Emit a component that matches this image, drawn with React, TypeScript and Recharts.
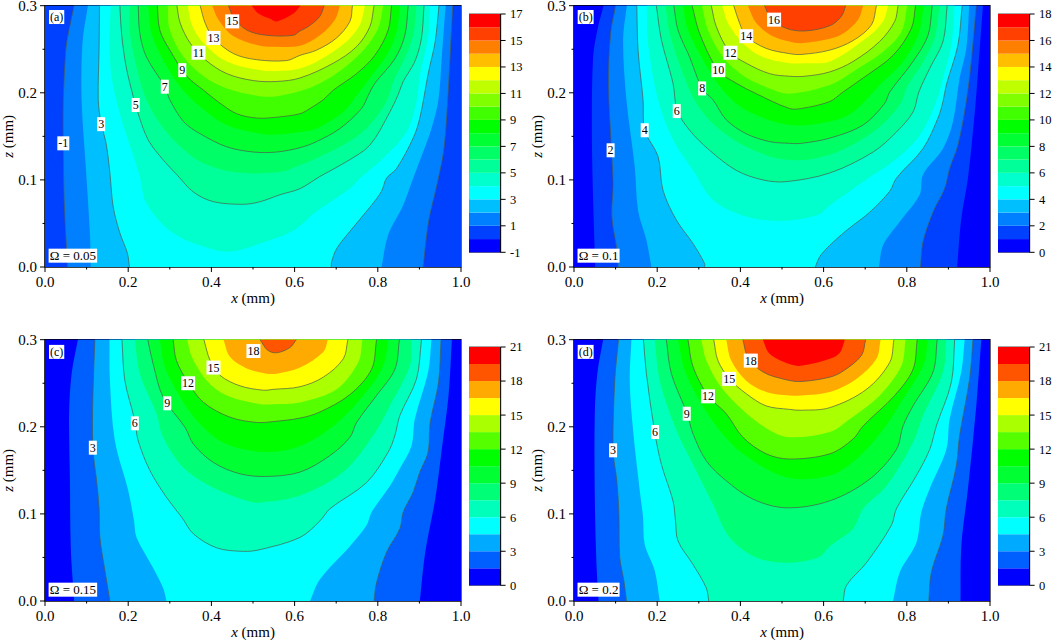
import React from "react";
import { BarChart, Bar, ComposedChart, Scatter, XAxis, YAxis, ReferenceArea, Label } from "recharts";

const FONT = "'Liberation Serif','Times New Roman',serif";

const xTicks = [0, 0.1, 0.2, 0.3, 0.4, 0.5, 0.6, 0.7, 0.8, 0.9, 1];
const xMajor = [0, 0.2, 0.4, 0.6, 0.8, 1];
const zTicks = [0, 0.05, 0.1, 0.15, 0.2, 0.25, 0.3];
const zMajor = [0, 0.1, 0.2, 0.3];

const colors18 = ["#0000ff","#0040ff","#0080ff","#00bfff","#00ffff","#00ffcc","#00ff99","#00ff66","#00ff33","#00ff00","#40ff00","#80ff00","#bfff00","#ffff00","#ffbf00","#ff8000","#ff4000","#ff0000"];
const colors14 = ["#0000ff","#0060ff","#00aaff","#00ffff","#00ffbb","#00ff77","#00ff33","#00ff00","#55ff00","#aaff00","#ffff00","#ffaa00","#ff5500","#ff0000"];

const fullField = [0,0.3, 0,0, 1,0, 1,0.3];

// Contours as x,z pairs in data units, outermost first
const contoursA = [
  [.07,.3,.056,.268,.05,.249,.044,.192,.044,.142,.046,.077,.054,0,.909,0,.922,.052,.942,.094,.958,.132,.966,.175,.974,.243,.98,.3],
  [.103,.3,.09,.257,.088,.192,.098,.115,.108,.039,.11,0,.809,0,.825,.037,.861,.071,.885,.102,.909,.132,.929,.159,.946,.193,.954,.243,.963,.3],
  [.131,.3,.13,.249,.128,.192,.135,.165,.147,.142,.156,.108,.164,.069,.18,.039,.198,.016,.203,0,.688,0,.689,.006,.701,.021,.733,.041,.785,.071,.809,.087,.821,.102,.845,.113,.885,.148,.901,.171,.922,.224,.938,.259,.947,.3],
  [.158,.3,.155,.257,.16,.218,.18,.176,.208,.134,.228,.104,.244,.073,.308,.039,.405,.02,.453,.018,.517,.027,.597,.042,.653,.064,.733,.09,.757,.102,.813,.125,.869,.155,.893,.19,.901,.22,.921,.263,.925,.3],
  [.18,.3,.184,.268,.195,.23,.212,.196,.224,.176,.248,.146,.284,.123,.317,.106,.357,.086,.405,.075,.477,.072,.517,.075,.565,.083,.613,.09,.661,.104,.725,.121,.781,.14,.829,.178,.849,.198,.861,.213,.889,.236,.905,.263,.911,.3],
  [.203,.3,.204,.268,.224,.222,.244,.192,.276,.165,.317,.142,.373,.121,.453,.109,.565,.109,.613,.117,.653,.125,.717,.14,.773,.159,.821,.19,.837,.213,.861,.236,.885,.266,.893,.3],
  [.224,.3,.228,.268,.244,.241,.288,.207,.3,.192,.333,.167,.373,.153,.437,.138,.501,.132,.557,.132,.613,.137,.653,.144,.709,.159,.761,.182,.777,.197,.793,.211,.841,.239,.865,.266,.873,.3],
  [.248,.3,.256,.268,.284,.238,.325,.207,.373,.184,.437,.163,.517,.153,.557,.152,.613,.155,.653,.159,.717,.178,.749,.197,.781,.217,.821,.243,.845,.27,.853,.3],
  [.27,.3,.276,.272,.3,.249,.341,.219,.381,.203,.421,.188,.461,.176,.509,.171,.557,.172,.613,.176,.637,.182,.669,.192,.693,.203,.749,.222,.793,.243,.825,.272,.833,.3],
  [.295,.3,.3,.272,.333,.241,.381,.219,.437,.205,.517,.196,.557,.196,.613,.202,.661,.211,.717,.228,.769,.251,.801,.274,.813,.3],
  [.317,.3,.325,.28,.349,.257,.385,.238,.437,.222,.501,.214,.557,.213,.613,.217,.693,.234,.749,.253,.781,.276,.791,.3],
  [.343,.3,.353,.278,.381,.257,.437,.236,.517,.226,.557,.225,.613,.228,.661,.238,.725,.259,.757,.278,.769,.3],
  [.373,.3,.385,.28,.405,.263,.453,.245,.509,.238,.581,.237,.613,.243,.653,.249,.701,.263,.733,.282,.739,.3],
  [.402,.3,.417,.284,.453,.265,.517,.254,.557,.253,.613,.254,.661,.266,.697,.284,.709,.3],
  [.441,.3,.453,.287,.485,.272,.533,.266,.597,.266,.613,.271,.633,.276,.661,.288,.671,.3],
  [.497,.3,.513,.291,.541,.285,.557,.282,.597,.291,.614,.3],
];

const contoursB = [
  [.071,.3,.058,.276,.046,.241,.043,.153,.046,.077,.051,0,.921,0,.931,.056,.947,.102,.965,.186,.974,.243,.983,.3],
  [.1,.3,.088,.268,.083,.211,.09,.134,.094,.096,.091,.058,.103,.02,.106,0,.833,0,.839,.029,.863,.063,.891,.09,.903,.113,.923,.14,.943,.19,.955,.236,.967,.3],
  [.127,.3,.118,.261,.126,.192,.146,.115,.154,.065,.174,.031,.186,0,.733,0,.743,.025,.783,.052,.831,.083,.839,.106,.887,.136,.911,.167,.927,.217,.943,.251,.95,.3],
  [.151,.3,.154,.249,.166,.192,.17,.157,.202,.127,.214,.088,.246,.054,.286,.027,.314,.004,.314,0,.58,0,.591,.012,.615,.025,.655,.042,.711,.063,.759,.087,.775,.102,.839,.136,.875,.171,.887,.19,.895,.209,.923,.255,.933,.3],
  [.175,.3,.178,.257,.202,.192,.238,.146,.286,.111,.334,.077,.414,.058,.502,.053,.587,.06,.615,.071,.695,.098,.767,.121,.831,.151,.871,.19,.887,.217,.907,.255,.915,.3],
  [.198,.3,.21,.261,.238,.211,.248,.18,.278,.157,.326,.134,.39,.111,.454,.1,.51,.098,.615,.108,.719,.132,.775,.155,.815,.178,.829,.201,.855,.228,.887,.259,.897,.3],
  [.22,.3,.23,.268,.262,.222,.294,.188,.342,.161,.414,.138,.51,.123,.615,.129,.719,.155,.783,.186,.803,.209,.835,.232,.867,.263,.879,.3],
  [.24,.3,.25,.272,.278,.241,.308,.205,.334,.192,.366,.169,.414,.153,.47,.144,.518,.142,.547,.142,.615,.148,.695,.163,.747,.188,.759,.201,.815,.236,.851,.266,.861,.3],
  [.262,.3,.274,.272,.31,.238,.358,.203,.414,.18,.518,.163,.615,.167,.671,.178,.735,.209,.791,.236,.827,.266,.841,.3],
  [.284,.3,.302,.268,.346,.226,.39,.211,.438,.199,.518,.182,.547,.182,.615,.19,.647,.201,.695,.217,.767,.243,.811,.274,.821,.3],
  [.308,.3,.322,.272,.358,.241,.406,.22,.47,.205,.518,.199,.615,.209,.663,.222,.743,.247,.787,.27,.801,.3],
  [.33,.3,.342,.276,.374,.247,.414,.234,.47,.222,.518,.219,.555,.219,.615,.224,.671,.236,.735,.259,.771,.282,.779,.3],
  [.357,.3,.37,.28,.406,.257,.454,.241,.518,.234,.555,.234,.615,.236,.703,.263,.743,.282,.755,.3],
  [.384,.3,.398,.28,.414,.265,.462,.251,.518,.245,.546,.244,.615,.249,.671,.26,.715,.278,.727,.3],
  [.418,.3,.438,.28,.478,.265,.518,.259,.546,.257,.615,.262,.647,.268,.683,.284,.695,.3],
  [.458,.3,.474,.285,.51,.274,.555,.271,.615,.277,.643,.288,.653,.3],
];

const contoursC = [
  [.079,.3,.064,.261,.058,.215,.06,.138,.062,.061,.07,0,.901,0,.914,.056,.938,.117,.954,.175,.97,.236,.978,.3],
  [.12,.3,.115,.234,.115,.176,.124,.138,.13,.107,.132,.073,.144,.035,.156,0,.791,0,.797,.021,.821,.056,.853,.083,.861,.102,.885,.125,.901,.148,.921,.171,.926,.205,.946,.251,.952,.3],
  [.155,.3,.156,.253,.168,.184,.2,.127,.214,.092,.22,.073,.26,.038,.284,.015,.292,0,.637,0,.661,.025,.733,.063,.773,.087,.785,.102,.829,.132,.853,.152,.881,.178,.889,.209,.921,.263,.929,.3],
  [.185,.3,.192,.253,.216,.207,.224,.184,.252,.15,.292,.119,.329,.096,.357,.077,.413,.061,.477,.057,.517,.059,.613,.073,.661,.092,.685,.106,.773,.136,.825,.171,.841,.19,.853,.213,.893,.255,.905,.3],
  [.216,.3,.228,.261,.268,.215,.284,.188,.333,.153,.405,.13,.485,.115,.517,.113,.613,.121,.717,.148,.789,.19,.829,.224,.877,.27,.881,.3],
  [.247,.3,.26,.272,.284,.234,.337,.199,.357,.18,.405,.159,.469,.146,.533,.143,.613,.148,.685,.167,.733,.188,.749,.205,.797,.236,.841,.266,.852,.3],
  [.276,.3,.288,.269,.325,.234,.373,.203,.437,.18,.533,.171,.613,.178,.693,.201,.765,.236,.813,.27,.825,.3],
  [.308,.3,.316,.276,.344,.251,.381,.228,.445,.211,.509,.205,.549,.206,.613,.21,.661,.217,.733,.237,.785,.266,.797,.3],
  [.342,.3,.353,.28,.389,.253,.437,.236,.517,.226,.549,.226,.613,.228,.701,.243,.753,.274,.763,.3],
  [.382,.3,.397,.276,.421,.259,.469,.247,.525,.242,.549,.243,.613,.246,.669,.257,.717,.278,.728,.3],
  [.429,.3,.445,.28,.485,.267,.533,.261,.557,.261,.613,.268,.669,.286,.68,.3],
  [.517,.3,.535,.288,.557,.285,.589,.291,.604,.3],
];

const contoursD = [
  [.07,.3,.056,.261,.05,.215,.05,.119,.054,.042,.059,0,.929,0,.931,.063,.947,.129,.967,.224,.979,.3],
  [.107,.3,.098,.253,.094,.173,.103,.138,.108,.1,.11,.05,.12,.023,.126,0,.853,0,.859,.033,.887,.075,.895,.106,.919,.155,.927,.19,.951,.255,.959,.3],
  [.138,.3,.134,.253,.142,.196,.158,.127,.166,.096,.17,.065,.194,.035,.206,0,.767,0,.783,.033,.823,.067,.835,.102,.855,.129,.895,.174,.903,.209,.931,.263,.939,.3],
  [.167,.3,.174,.261,.194,.194,.21,.157,.238,.115,.244,.092,.25,.069,.286,.042,.318,.015,.324,0,.647,0,.655,.018,.703,.044,.763,.087,.775,.106,.823,.144,.855,.174,.871,.201,.907,.251,.915,.3],
  [.194,.3,.206,.253,.246,.196,.286,.157,.334,.111,.374,.073,.438,.05,.51,.044,.587,.05,.615,.063,.671,.083,.695,.106,.751,.132,.815,.182,.839,.213,.887,.263,.895,.3],
  [.222,.3,.234,.261,.272,.215,.286,.192,.318,.161,.366,.138,.43,.117,.51,.107,.615,.115,.711,.14,.775,.174,.791,.201,.815,.224,.863,.263,.873,.3],
  [.25,.3,.266,.265,.302,.23,.35,.196,.406,.169,.51,.142,.615,.144,.679,.163,.743,.197,.791,.232,.839,.27,.851,.3],
  [.274,.3,.286,.269,.322,.236,.366,.215,.406,.188,.462,.169,.518,.163,.615,.169,.671,.186,.695,.201,.771,.236,.815,.266,.825,.3],
  [.306,.3,.318,.276,.354,.245,.406,.219,.47,.196,.518,.188,.615,.194,.663,.209,.735,.236,.787,.27,.797,.3],
  [.336,.3,.346,.276,.374,.255,.414,.238,.462,.224,.518,.22,.546,.219,.615,.222,.703,.243,.759,.274,.769,.3],
  [.366,.3,.378,.276,.414,.253,.462,.24,.518,.236,.546,.236,.615,.24,.679,.255,.727,.278,.737,.3],
  [.406,.3,.418,.28,.454,.263,.51,.254,.546,.252,.615,.257,.647,.264,.691,.282,.701,.3],
  [.454,.3,.47,.284,.518,.272,.546,.27,.615,.278,.639,.285,.651,.3],
];

const labelsA = [{t:"15",x:.45,z:.282},{t:"13",x:.405,z:.263},{t:"11",x:.369,z:.246},{t:"9",x:.33,z:.226},{t:"7",x:.288,z:.207},{t:"5",x:.218,z:.186},{t:"3",x:.135,z:.164},{t:"-1",x:.044,z:.142},{t:"(a)",x:.028,z:.287},{t:"Ω = 0.05",x:.067,z:.013}];
const labelsB = [{t:"16",x:.481,z:.284},{t:"14",x:.414,z:.265},{t:"12",x:.376,z:.246},{t:"10",x:.347,z:.226},{t:"8",x:.308,z:.205},{t:"6",x:.247,z:.179},{t:"4",x:.17,z:.157},{t:"2",x:.088,z:.134},{t:"(b)",x:.028,z:.287},{t:"Ω = 0.1",x:.059,z:.013}];
const labelsC = [{t:"18",x:.501,z:.287},{t:"15",x:.405,z:.268},{t:"12",x:.344,z:.25},{t:"9",x:.294,z:.227},{t:"6",x:.216,z:.204},{t:"3",x:.115,z:.176},{t:"(c)",x:.028,z:.286},{t:"Ω = 0.15",x:.067,z:.013}];
const labelsD = [{t:"18",x:.425,z:.276},{t:"15",x:.373,z:.255},{t:"12",x:.322,z:.235},{t:"9",x:.271,z:.215},{t:"6",x:.195,z:.194},{t:"3",x:.094,z:.173},{t:"(d)",x:.028,z:.286},{t:"Ω = 0.2",x:.059,z:.013}];

const toRows = (flat: number[]) => {
  const rows: { x: number; z: number }[] = [];
  for (let i = 0; i < flat.length; i += 2) rows.push({ x: flat[i], z: flat[i + 1] });
  return rows;
};

type P = { x: number; y: number };
// smooth chord-length spline through screen points
const spline = (pts: P[], move: string) => {
  let d = `${move}${pts[0].x},${pts[0].y}`;
  const dist = (a: P, b: P) => Math.hypot(a.x - b.x, a.y - b.y) || 1;
  const tan = (i: number) => {
    if (i === 0) { const l = dist(pts[0], pts[1]); return { x: (pts[1].x - pts[0].x) / l, y: (pts[1].y - pts[0].y) / l }; }
    if (i === pts.length - 1) { const l = dist(pts[i - 1], pts[i]); return { x: (pts[i].x - pts[i - 1].x) / l, y: (pts[i].y - pts[i - 1].y) / l }; }
    const l = dist(pts[i - 1], pts[i]) + dist(pts[i], pts[i + 1]);
    return { x: (pts[i + 1].x - pts[i - 1].x) / l, y: (pts[i + 1].y - pts[i - 1].y) / l };
  };
  for (let i = 0; i < pts.length - 1; i++) {
    const l = dist(pts[i], pts[i + 1]);
    const a = tan(i), b = tan(i + 1);
    d += `C${pts[i].x + (a.x * l) / 3},${pts[i].y + (a.y * l) / 3} ${pts[i + 1].x - (b.x * l) / 3},${pts[i + 1].y - (b.y * l) / 3} ${pts[i + 1].x},${pts[i + 1].y}`;
  }
  return d;
};

const contourShape = (rows: { x: number; z: number }[], fill: string, stroked: boolean) => (props: any) => {
  const pts: P[] = props.points;
  let cut = -1;
  for (let i = 0; i < rows.length - 1; i++) if (rows[i].z === 0 && rows[i + 1].z === 0) cut = i;
  const pieces = cut >= 0 ? [pts.slice(0, cut + 1), pts.slice(cut + 1)] : [pts];
  const fillD = pieces.map((p, i) => (p.length > 1 ? spline(p, i === 0 ? "M" : "L") : `${i === 0 ? "M" : "L"}${p[0].x},${p[0].y}`)).join("") + "Z";
  const lineD = pieces.filter((p) => p.length > 1).map((p) => spline(p, "M")).join("");
  return (
    <g>
      <path d={fillD} fill={fill} stroke="none" />
      {stroked && <path d={lineD} fill="none" stroke="#4d5a4d" strokeWidth={0.7} />}
    </g>
  );
};

const NoPoint = () => <g />;

const charW: Record<string, number> = { ".": 0.25, "-": 0.33, "(": 0.33, ")": 0.33, " ": 0.25, "=": 0.56, "Ω": 0.77, a: 0.44, b: 0.5, c: 0.44, d: 0.5 };
const LabelBox = (props: any) => {
  const { cx, cy, payload } = props;
  const t: string = payload.t;
  const fs = t.length > 4 ? 13 : 12;
  const w = t.split("").reduce((s, c) => s + (charW[c] ?? 0.5), 0) * fs + 2;
  const h = 14;
  return (
    <g>
      <rect x={cx - w / 2} y={cy - h / 2} width={w} height={h} fill="#fff" />
      <text x={cx} y={cy} textAnchor="middle" dominantBaseline="central" fontFamily={FONT} fontSize={fs} fill="#000">{t}</text>
    </g>
  );
};

const XTick = (props: any) => {
  const { x, y, payload } = props;
  const major = xMajor.includes(payload.value);
  return (
    <g>
      <line x1={x} x2={x} y1={y} y2={y + (major ? 5 : 2.5)} stroke="#000" strokeWidth={1} />
      {major && <text x={x} y={y + 20} textAnchor="middle" fontFamily={FONT} fontSize={15} fill="#000">{payload.value.toFixed(1)}</text>}
    </g>
  );
};
const ZTick = (props: any) => {
  const { x, y, payload } = props;
  const major = zMajor.includes(payload.value);
  return (
    <g>
      <line x1={x} x2={x - (major ? 5 : 2.5)} y1={y} y2={y} stroke="#000" strokeWidth={1} />
      {major && <text x={x - 8} y={y} textAnchor="end" dominantBaseline="central" fontFamily={FONT} fontSize={15} fill="#000">{payload.value.toFixed(1)}</text>}
    </g>
  );
};
const XTitle = (props: any) => {
  const v = props.viewBox;
  return <text x={v.x + v.width / 2} y={v.y + 36} textAnchor="middle" fontFamily={FONT} fontSize={15} fill="#000"><tspan fontStyle="italic">x</tspan> (mm)</text>;
};
const ZTitle = (props: any) => {
  const v = props.viewBox;
  const cy = v.y + v.height / 2;
  return <text x={8} y={cy} textAnchor="middle" dominantBaseline="central" transform={`rotate(-90 8 ${cy})`} fontFamily={FONT} fontSize={15} fill="#000"><tspan fontStyle="italic">z</tspan> (mm)</text>;
};

const PLOT_W = 416, PLOT_H = 261.3, AX_L = 45, M_TOP = 15.7, M_RIGHT = 14;

function Panel({ left, top, contours, colors, start, oddLines, labels }: any) {
  const base = toRows(fullField);
  return (
    <div style={{ position: "absolute", left, top: top - 10 }}>
      <ComposedChart width={AX_L + PLOT_W + M_RIGHT} height={M_TOP + PLOT_H + 44} margin={{ top: M_TOP, left: 0, right: M_RIGHT, bottom: 0 }}>
        <XAxis type="number" dataKey="x" domain={[0, 1]} ticks={xTicks} interval={0} height={44} tickSize={0} tickMargin={0} tick={<XTick />} axisLine={{ stroke: "#000" }}>
          <Label content={<XTitle />} position="bottom" />
        </XAxis>
        <YAxis type="number" dataKey="z" domain={[0, 0.3]} ticks={zTicks} interval={0} width={AX_L} tickSize={0} tickMargin={0} tick={<ZTick />} axisLine={{ stroke: "#000" }}>
          <Label content={<ZTitle />} position="left" />
        </YAxis>
        <Scatter data={base} isAnimationActive={false} shape={NoPoint} line={contourShape(base, colors[start - 1], false)} />
        {contours.map((flat: number[], i: number) => {
          const rows = toRows(flat);
          const stroked = oddLines ? i % 2 === 0 : i % 2 === 1;
          return <Scatter key={i} data={rows} isAnimationActive={false} shape={NoPoint} line={contourShape(rows, colors[start + i], stroked)} />;
        })}
        <Scatter data={labels} isAnimationActive={false} shape={LabelBox} />
        <ReferenceArea x1={0} x2={1} y1={0} y2={0.3} fill="none" stroke="#000" strokeWidth={1.2} ifOverflow="visible" />
      </ComposedChart>
    </div>
  );
}

function ColorBar({ left, top, colors, step, min }: any) {
  const keys = colors.map((_: string, i: number) => `s${i}`);
  const row: any = { c: "bar" };
  keys.forEach((k: string) => (row[k] = step));
  const total = step * colors.length;
  const ticks: number[] = [];
  for (let i = 0; i <= colors.length; i += 2) ticks.push(i * step);
  return (
    <div style={{ position: "absolute", left, top }}>
      <BarChart width={62} height={254} data={[row]} margin={{ top: 8, right: 0, left: 0, bottom: 7.7 }} barCategoryGap={0}>
        <XAxis dataKey="c" hide />
        <YAxis type="number" orientation="right" width={30.4} domain={[0, total]} ticks={ticks} interval={0} tickSize={5} tickMargin={4.5}
          tickFormatter={(v: number) => String(Math.round(v + min))}
          tick={{ fontFamily: FONT, fontSize: 12.5, fill: "#000" }} axisLine={{ stroke: "#000" }} tickLine={{ stroke: "#000" }} />
        {keys.map((k: string, i: number) => (
          <Bar key={k} dataKey={k} stackId="cb" fill={colors[i]} isAnimationActive={false} />
        ))}
        <ReferenceArea y1={0} y2={total} fill="none" stroke="#222" strokeWidth={0.8} ifOverflow="visible" />
      </BarChart>
    </div>
  );
}

export default function App() {
  return (
    <div style={{ position: "absolute", left: 0, top: 0, width: 1052, height: 640, overflow: "hidden", background: "#fff" }}>
      <Panel left={0} top={0} contours={contoursA} colors={colors18} start={2} oddLines labels={labelsA} />
      <Panel left={529.3} top={0} contours={contoursB} colors={colors18} start={1} labels={labelsB} />
      <Panel left={0} top={333.6} contours={contoursC} colors={colors14} start={1} labels={labelsC} />
      <Panel left={529.3} top={333.6} contours={contoursD} colors={colors14} start={1} labels={labelsD} />
      <ColorBar left={468.7} top={6} colors={colors18} step={1} min={-1} />
      <ColorBar left={998.3} top={6} colors={colors18} step={1} min={0} />
      <ColorBar left={468.7} top={339.4} colors={colors14} step={1.5} min={0} />
      <ColorBar left={998.3} top={339.4} colors={colors14} step={1.5} min={0} />
    </div>
  );
}
